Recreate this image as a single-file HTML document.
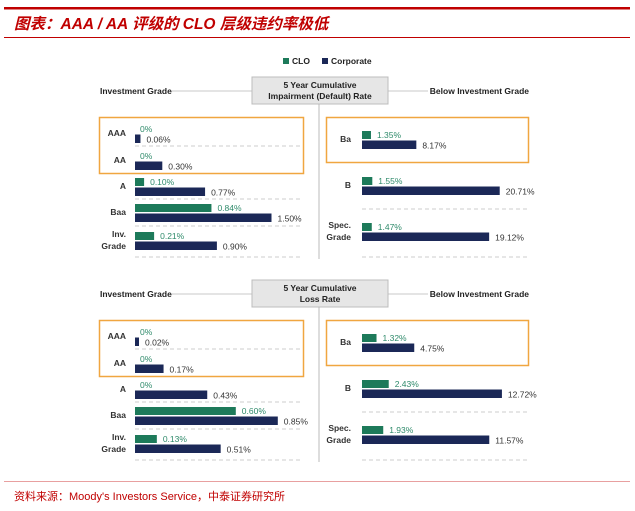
<!DOCTYPE html>
<html><head><meta charset="utf-8"><style>
html,body{margin:0;padding:0;background:#fff;width:635px;height:511px;overflow:hidden}
svg{display:block}
text{font-family:"Liberation Sans","Noto Sans CJK SC",sans-serif}
</style></head><body>
<svg id="c" width="635" height="511" viewBox="0 0 635 511">
<rect x="4" y="7" width="626" height="2.5" fill="#c00000"/>
<text x="14" y="29" font-size="15.5" font-weight="bold" font-style="italic" fill="#c00000">图表：AAA / AA 评级的 CLO 层级违约率极低</text>
<rect x="4" y="37" width="626" height="1" fill="#c00000"/>
<g>
<rect x="283" y="58" width="6" height="6" fill="#1d7a5a"/>
<text x="292" y="64" font-size="8.5" font-weight="bold" fill="#222">CLO</text>
<rect x="322" y="58" width="6" height="6" fill="#1b2857"/>
<text x="331" y="64" font-size="8.5" font-weight="bold" fill="#222">Corporate</text>
</g>
<rect x="4" y="481" width="626" height="1" fill="#e8a0a0"/>
<text x="14" y="500" font-size="11" fill="#c00000">资料来源：Moody's Investors Service，中泰证券研究所</text>
<g id="plots"></g>
</svg>
<script>
// Panel 1: impairment rate
const igCats = ["AAA","AA","A","Baa","Inv.|Grade"];
const igClo1 = [0,0,0.10,0.84,0.21];
const igCorp1 = [0.06,0.30,0.77,1.50,0.90];
const bigCats = ["Ba","B","Spec.|Grade"];
const bigClo1 = [1.35,1.55,1.47];
const bigCorp1 = [8.17,20.71,19.12];
// Panel 2: loss rate
const igClo2 = [0,0,0,0.60,0.13];
const igCorp2 = [0.02,0.17,0.43,0.85,0.51];
const bigClo2 = [1.32,2.43,1.93];
const bigCorp2 = [4.75,12.72,11.57];
const titles = [["5 Year Cumulative","Impairment (Default) Rate"],["5 Year Cumulative","Loss Rate"]];

const NS="http://www.w3.org/2000/svg";
const root=document.getElementById('plots');
function mk(tag,attrs,parent){const e=document.createElementNS(NS,tag);for(const k in attrs)e.setAttribute(k,attrs[k]);(parent||root).appendChild(e);return e;}
function txt(x,y,s,attrs,parent){const t=mk('text',Object.assign({x:x,y:y},attrs),parent);t.textContent=s;return t;}
const GREEN="#1d7a5a",NAVY="#1b2857";
const igRowTop=[125,152,178,204,232];
const bigRowTop=[131,177,223];

function panel(oy,title,iClo,iCorp,bClo,bCorp,igScale,bigScale,pi){
  const g=mk('g',{});
  
  
  let l=mk('line',{x1:172,x2:252,y1:91+oy,y2:91+oy,stroke:"#c8c8c8","stroke-width":1},g);
  
  l=mk('line',{x1:388,x2:428,y1:91+oy,y2:91+oy,stroke:"#c8c8c8","stroke-width":1},g);
  
  const hb=mk('rect',{x:252,y:77+oy,width:136,height:27,fill:"#e6e6e6",stroke:"#bdbdbd","stroke-width":1},g);
  
  let t=txt(320,88+oy,title[0],{"font-size":8.5,"font-weight":"bold","text-anchor":"middle",fill:"#222"},g);
  
  t=txt(320,99+oy,title[1],{"font-size":8.5,"font-weight":"bold","text-anchor":"middle",fill:"#222"},g);
  
  t=txt(100,94+oy,"Investment Grade",{"font-size":8.5,"font-weight":"bold",fill:"#222"},g);
  
  t=txt(529,94+oy,"Below Investment Grade",{"font-size":8.5,"font-weight":"bold",fill:"#222","text-anchor":"end"},g);
  
  l=mk('line',{x1:319,x2:319,y1:104+oy,y2:259+oy,stroke:"#bbb","stroke-width":1},g);
  
  let ob=mk('rect',{x:99.5,y:117.5+oy,width:204,height:56,fill:"none",stroke:"#f0a640","stroke-width":1.5},g);
  
  ob=mk('rect',{x:326.5,y:117.5+oy,width:202,height:45,fill:"none",stroke:"#f0a640","stroke-width":1.5},g);
  
  [146,199,226,257].forEach(y=>{const d=mk('line',{x1:135,x2:300,y1:y+oy,y2:y+oy,stroke:"#ccc","stroke-dasharray":"4,3"},g);
    });
  [209,257].forEach(y=>{const d=mk('line',{x1:362,x2:528,y1:y+oy,y2:y+oy,stroke:"#ccc","stroke-dasharray":"4,3"},g);
    });
  function rows(cats,clo,corp,tops,x0,scale,labX,side){
    cats.forEach((c,i)=>{
      const y=tops[i]+oy;
      const parts=c.split('|');
      parts.forEach((p,j)=>{
        const ly=parts.length>1?y+5+j*12:y+11;
        const lt=txt(labX,ly,p,{"font-size":8.5,"font-weight":"bold","text-anchor":"end",fill:"#333"},g);
        
        
      });
      const wc=clo[i]*scale;
      if(wc>0){
        const b=mk('rect',{x:x0,y:y,width:Math.max(wc,3),height:8,fill:GREEN},g);
        
        
      }
      const vc=txt(x0+(wc>0?Math.max(wc,3)+6:5),y+7,(clo[i]===0?"0":clo[i].toFixed(2))+"%",{"font-size":8.5,fill:"#2e8a6a"},g);
      
      
      const wk=Math.max(corp[i]*scale,4);
      const b2=mk('rect',{x:x0,y:y+9.5,width:wk,height:8.5,fill:NAVY},g);
      
      
      const vk=txt(x0+wk+6,y+17.5,corp[i].toFixed(2)+"%",{"font-size":8.5,fill:"#333"},g);
      
      
    });
  }
  rows(igCats,iClo,iCorp,igRowTop,135,igScale,126,'ig');
  rows(bigCats,bClo,bCorp,bigRowTop,362,bigScale,351,'big');
}
panel(0,titles[0],igClo1,igCorp1,bigClo1,bigCorp1,91,6.65,0);
panel(203,titles[1],igClo2,igCorp2,bigClo2,bigCorp2,168,11,1);
</script>
</body></html>
